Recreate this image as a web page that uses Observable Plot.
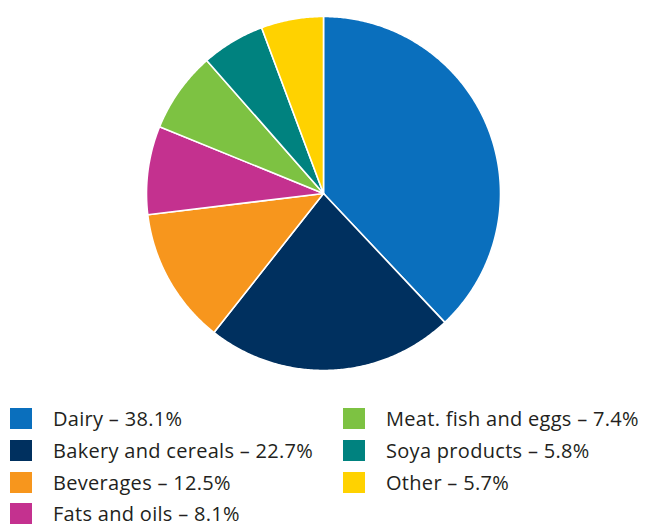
<!DOCTYPE html>
<html>
<head>
<meta charset="utf-8">
<script src="https://cdn.jsdelivr.net/npm/d3@7"></script>
<script src="https://cdn.jsdelivr.net/npm/@observablehq/plot@0.6"></script>
<style>
  html, body { margin: 0; padding: 0; background: #fff; }
  #wrap { position: relative; width: 648px; height: 524px; overflow: hidden; font-family: "Open Sans", "Noto Sans", sans-serif; }
  #chart { position: absolute; left: 0; top: 0; }
  .col { position: absolute; top: 403px; }
  .item { display: flex; align-items: center; height: 31.7px; font-size: 20px; letter-spacing: 0.3px; color: #231f20; white-space: nowrap; }
  .sw { width: 22px; height: 21px; margin-right: 21px; flex: none; }
</style>
</head>
<body>
<div id="wrap">
  <div id="chart"></div>
  <div class="col" id="colL" style="left:10px"></div>
  <div class="col" id="colR" style="left:343px"></div>
</div>
<script>
const categories = ["Dairy", "Bakery and cereals", "Beverages", "Fats and oils", "Meat, fish and eggs", "Soya products", "Other"];
const values = [38.1, 22.7, 12.5, 8.1, 7.4, 5.8, 5.7];
const labels = ["Dairy – 38.1%", "Bakery and cereals – 22.7%", "Beverages – 12.5%", "Fats and oils – 8.1%", "Meat. fish and eggs – 7.4%", "Soya products – 5.8%", "Other – 5.7%"];
const colors = ["#0a6fbd", "#00305f", "#f7961d", "#c4318f", "#7dc242", "#00827f", "#ffd200"];

const total = d3.sum(values);
const pts = [];
let cum = 0;
categories.forEach((name, i) => {
  const a0 = cum / total * 2 * Math.PI;
  cum += values[i];
  const a1 = cum / total * 2 * Math.PI;
  pts.push({name, x: 0, y: 0});
  const n = Math.max(4, Math.ceil((a1 - a0) / (Math.PI / 360)));
  for (let k = 0; k <= n; k++) {
    const a = a0 + (a1 - a0) * k / n;
    pts.push({name, x: Math.sin(a), y: Math.cos(a)});
  }
  pts.push({name, x: 0, y: 0});
});

const chart = Plot.plot({
  width: 648,
  height: 392,
  marginLeft: 146,
  marginRight: 148,
  marginTop: 16,
  marginBottom: 22,
  x: {domain: [-1, 1], axis: null},
  y: {domain: [-1, 1], axis: null},
  color: {domain: categories, range: colors},
  marks: [
    Plot.line(pts, {x: "x", y: "y", z: "name", fill: "name", stroke: "white", strokeWidth: 1.6, strokeLinejoin: "round", curve: "linear"})
  ]
});
document.getElementById("chart").appendChild(chart);

function addItem(col, i) {
  const div = document.createElement("div");
  div.className = "item";
  const sw = document.createElement("div");
  sw.className = "sw";
  sw.style.background = colors[i];
  const t = document.createElement("span");
  t.textContent = labels[i];
  div.appendChild(sw);
  div.appendChild(t);
  col.appendChild(div);
}
const colL = document.getElementById("colL");
const colR = document.getElementById("colR");
[0, 1, 2, 3].forEach(i => addItem(colL, i));
[4, 5, 6].forEach(i => addItem(colR, i));
</script>
</body>
</html>
